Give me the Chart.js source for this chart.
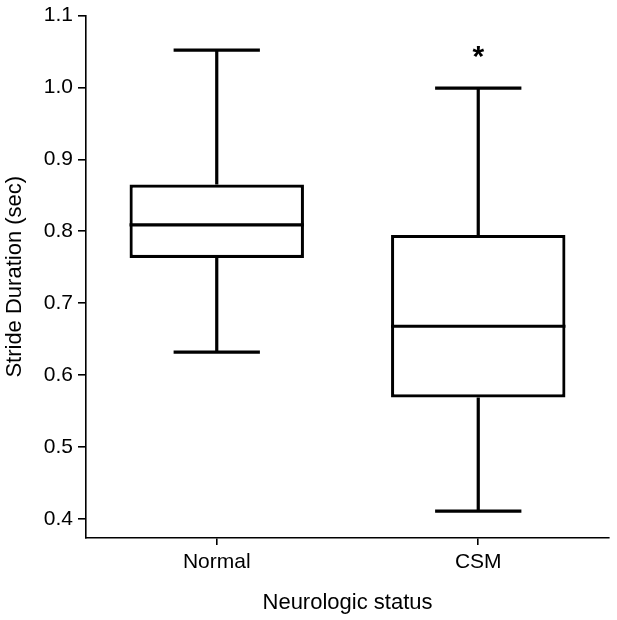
<!DOCTYPE html>
<html>
<head>
<meta charset="utf-8">
<script src="https://cdn.jsdelivr.net/npm/chart.js@4.4.1/dist/chart.umd.min.js"></script>
<style>
  html, body { margin: 0; padding: 0; background: #fff; }
  #wrap { width: 617px; height: 620px; }
</style>
</head>
<body>
<div id="wrap"><canvas id="myChart" width="617" height="620"></canvas></div>
<script>
// box plot values
const groups = ['Normal', 'CSM'];
const whiskerLow = [0.632, 0.411];
const q1 = [0.763, 0.569];
const medians = [0.809, 0.668];
const q3 = [0.865, 0.795];
const whiskerHigh = [1.052, 0.999];
const marks = ['', '*'];
const yTicks = [0.4, 0.5, 0.6, 0.7, 0.8, 0.9, 1.0, 1.1];

const font = "Arial, 'Liberation Sans', sans-serif";

// whiskers, caps, medians and the asterisk, placed with the chart's scales
const boxExtras = {
  id: 'boxExtras',
  afterDatasetsDraw(chart) {
    const c = chart.ctx;
    const x = chart.scales.x, y = chart.scales.y;
    const meta = chart.getDatasetMeta(0);
    c.save();
    c.strokeStyle = '#000';
    c.lineWidth = 3.2;
    c.lineCap = 'butt';
    groups.forEach((g, i) => {
      const cx = x.getPixelForValue(i);
      const capHalf = x.width / groups.length * 0.165;
      const bar = meta.data[i];
      const half = bar.width / 2;
      c.beginPath();
      // upper whisker + cap
      c.moveTo(cx, y.getPixelForValue(q3[i]));
      c.lineTo(cx, y.getPixelForValue(whiskerHigh[i]));
      c.moveTo(cx - capHalf, y.getPixelForValue(whiskerHigh[i]));
      c.lineTo(cx + capHalf, y.getPixelForValue(whiskerHigh[i]));
      // lower whisker + cap
      c.moveTo(cx, y.getPixelForValue(q1[i]));
      c.lineTo(cx, y.getPixelForValue(whiskerLow[i]));
      c.moveTo(cx - capHalf, y.getPixelForValue(whiskerLow[i]));
      c.lineTo(cx + capHalf, y.getPixelForValue(whiskerLow[i]));
      // median
      c.moveTo(cx - half, y.getPixelForValue(medians[i]));
      c.lineTo(cx + half, y.getPixelForValue(medians[i]));
      c.stroke();
      if (marks[i]) {
        c.fillStyle = '#000';
        c.font = 'bold 30px ' + font;
        c.textAlign = 'center';
        c.textBaseline = 'middle';
        c.fillText(marks[i], cx, y.getPixelForValue(whiskerHigh[i]) - 30);
      }
    });
    c.restore();
  }
};

const ctx = document.getElementById('myChart').getContext('2d');
const myChart = new Chart(ctx, {
  type: 'bar',
  data: {
    labels: groups,
    datasets: [{
      data: groups.map((g, i) => [q1[i], q3[i]]),
      backgroundColor: '#fff',
      borderColor: '#000',
      borderWidth: 3.2,
      borderSkipped: false,
      barPercentage: 0.667,
      categoryPercentage: 1
    }]
  },
  options: {
    responsive: false,
    animation: false,
    layout: { padding: { top: 15, right: 8, left: 0, bottom: 0 } },
    plugins: { legend: { display: false }, tooltip: { enabled: false } },
    scales: {
      x: {
        offset: true,
        grid: { display: true, drawOnChartArea: false, drawTicks: true, tickLength: 7, color: '#000', lineWidth: 1.6, offset: false },
        border: { display: true, color: '#000', width: 1.6 },
        ticks: { color: '#000', font: { family: font, size: 21 }, padding: 5 },
        title: { display: true, text: 'Neurologic status', color: '#000', font: { family: font, size: 22 }, padding: { top: 9 } },
        afterFit(scale) { scale.height = 82; }
      },
      y: {
        min: 0.3736,
        max: 1.1,
        afterBuildTicks(scale) { scale.ticks = yTicks.map(v => ({ value: v })); },
        grid: { display: true, drawOnChartArea: false, drawTicks: true, tickLength: 8, color: '#000', lineWidth: 1.6 },
        border: { display: true, color: '#000', width: 1.6 },
        ticks: { color: '#000', font: { family: font, size: 21, lineHeight: 1 }, padding: 5, callback: v => v.toFixed(1) },
        title: { display: true, text: 'Stride Duration (sec)', color: '#000', font: { family: font, size: 22 }, padding: { top: 2, bottom: 4 } },
        afterFit(scale) { scale.width = 86; }
      }
    }
  },
  plugins: [boxExtras]
});
</script>
</body>
</html>
